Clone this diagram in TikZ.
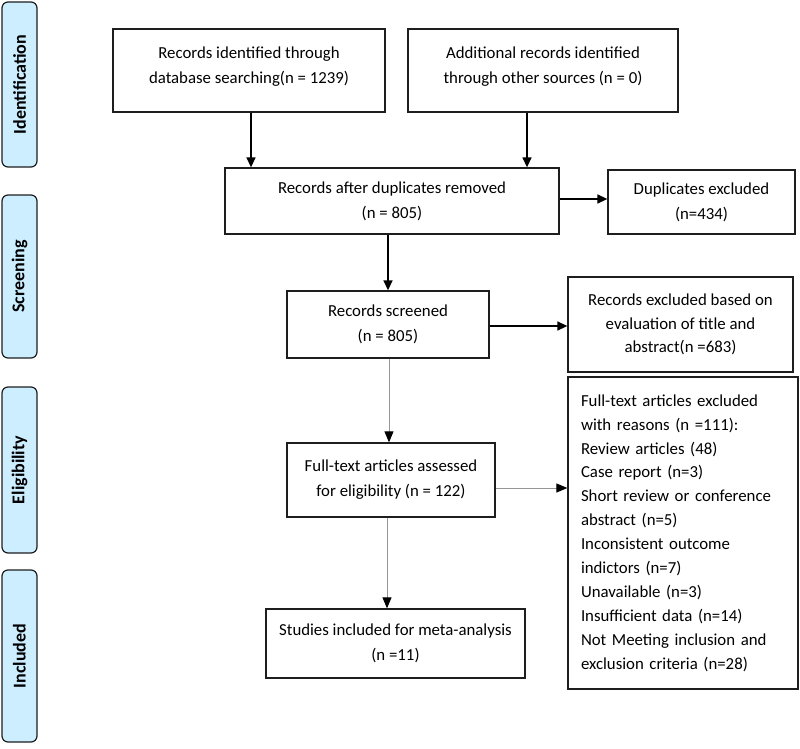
\documentclass[tikz,border=0pt]{standalone}
\usepackage{fontspec}
\setmainfont{Carlito}
\usetikzlibrary{arrows.meta,calc}
\definecolor{sidefill}{RGB}{204,238,255}
\definecolor{boxline}{RGB}{30,30,30}
\definecolor{thinline}{RGB}{150,150,150}
\begin{document}
\begin{tikzpicture}[x=1pt,y=-1pt,
  box/.style={draw=boxline,line width=1.3pt,align=center,inner sep=4pt,font=\fontsize{16.8}{25}\selectfont},
  side/.style={draw=boxline,line width=1.2pt,fill=sidefill,rounded corners=6pt,rotate=90,font=\bfseries\fontsize{18}{20}\selectfont,minimum height=35pt,inner sep=0pt},
  arr/.style={line width=1.4pt,-{Triangle[length=10pt,width=9pt]}},
  garr/.style={line width=0.9pt,draw=thinline,-{Triangle[length=11pt,width=9pt,color=black,fill=black]}}
]
\useasboundingbox (0,0) rectangle (800,749);

% side labels
\node[side,minimum width=165pt] (s1) at (19.5,84.5) {Identification};
\node[side,minimum width=163pt] (s2) at (19.5,276.5) {Screening};
\node[side,minimum width=166pt] (s3) at (19.5,470) {Eligibility};
\node[side,minimum width=172pt] (s4) at (19.5,656) {Included};

% boxes
\node[box,minimum width=272pt,minimum height=83pt] (b1) at (249,70.5) {Records identified through\\database searching(n = 1239)\\[-15pt]\mbox{}};
\node[box,minimum width=270pt,minimum height=83pt] (b2) at (543,70.5) {Additional records identified\\through other sources (n = 0)\\[-15pt]\mbox{}};
\node[box,minimum width=334pt,minimum height=66pt] (b3) at (392,201) {Records after duplicates removed\\(n = 805)};
\node[box,minimum width=187pt,minimum height=64pt] (dup) at (701.5,202) {Duplicates excluded\\(n=434)};
\node[box,minimum width=202pt,minimum height=67pt] (scr) at (388,324.5) {Records screened\\(n = 805)};
\node[box,minimum width=225pt,minimum height=95pt,font=\fontsize{16.8}{23.5}\selectfont] (ex1) at (680.5,324.5) {Records excluded based on\\evaluation of title and\\abstract(n =683)};
\node[box,text width=204pt,inner xsep=13pt,minimum height=312pt,align=left,font=\fontsize{16.8}{23.9}\selectfont] (ex2) at (683,533) {Full-text articles excluded\\with reasons (n =111):\\Review articles (48)\\Case report (n=3)\\Short review or conference\\abstract (n=5)\\Inconsistent outcome\\indictors (n=7)\\Unavailable (n=3)\\Insufficient data (n=14)\\Not Meeting inclusion and\\exclusion criteria (n=28)};
\node[box,minimum width=208pt,minimum height=74pt] (ass) at (391,480) {Full-text articles assessed\\for eligibility (n = 122)};
\node[box,minimum width=259pt,minimum height=69pt] (inc) at (395.5,643.5) {Studies included for meta-analysis\\(n =11)};

% connector start points
\coordinate (c1) at ($(b1.south)+(2,0)$);
\coordinate (c2) at ($(b2.south)+(-16,0)$);
\coordinate (c3) at ($(b3.east)+(0,-2)$);
\coordinate (c4) at (b3.south -| scr);
\coordinate (c5) at ($(scr.east)+(0,1.5)$);
\coordinate (c6) at ($(scr.south)+(1,0)$);
\coordinate (c7) at ($(ass.east)+(0,8)$);
\coordinate (c8) at ($(ass.south)+(-4,0)$);

% connectors
\draw[arr] (c1) -- (c1 |- b3.north);
\draw[arr] (c2) -- (c2 |- b3.north);
\draw[arr] (c3) -- (c3 -| dup.west);
\draw[arr] (c4) -- (scr.north);
\draw[arr] (c5) -- (c5 -| ex1.west);
\draw[garr] (c6) -- (c6 |- ass.north);
\draw[garr] (c7) -- (c7 -| ex2.west);
\draw[garr] (c8) -- (c8 |- inc.north);
\end{tikzpicture}
\end{document}
